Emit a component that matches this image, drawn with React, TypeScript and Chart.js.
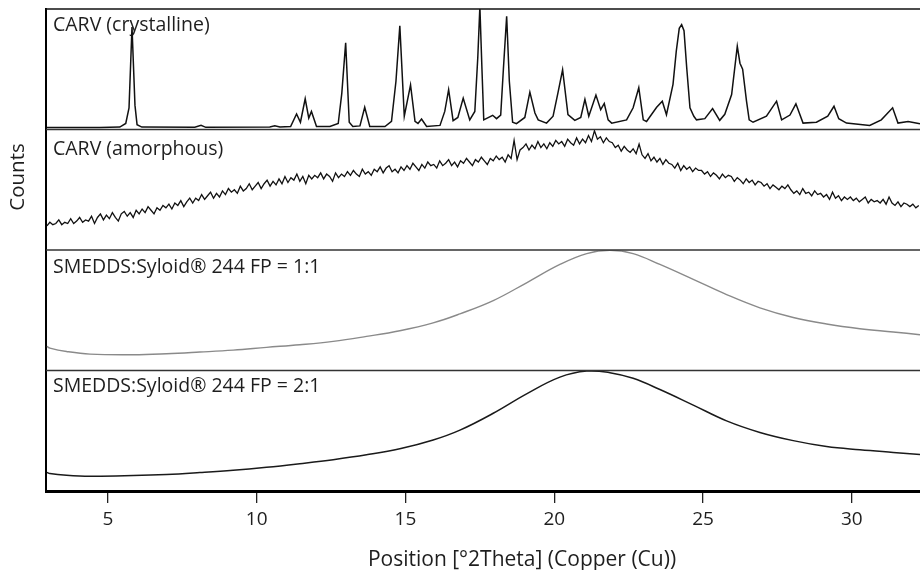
import React, { useEffect, useRef } from 'react';
import { Chart, registerables } from 'chart.js';

Chart.register(...registerables);

// ---------------- data ----------------
const X_MIN = 2.92;
const X_MAX = 32.29;
const X_TICKS = [5, 10, 15, 20, 25, 30];
const X_TITLE = 'Position [°2Theta] (Copper (Cu))';
const Y_TITLE = 'Counts';
const PANEL_LABELS = [
  'CARV (crystalline)',
  'CARV (amorphous)',
  'SMEDDS:Syloid® 244 FP = 1:1',
  'SMEDDS:Syloid® 244 FP = 2:1',
];

const CRYSTALLINE_2THETA = [
  2.95, 4.73, 5.40, 5.60, 5.71, 5.81, 5.91, 5.98, 6.14, 7.92, 8.13, 8.29,
  10.44, 10.61, 10.78, 11.14, 11.34, 11.47, 11.63, 11.75, 11.84, 12.01,
  12.46, 12.74, 12.86, 12.99, 13.11, 13.23, 13.47, 13.63, 13.80,
  14.31, 14.53, 14.68, 14.81, 14.96, 15.17, 15.32, 15.42, 15.54, 15.71,
  16.16, 16.32, 16.45, 16.60, 16.76, 16.94, 17.16, 17.33, 17.43, 17.50, 17.57, 17.63,
  17.93, 18.06, 18.20, 18.29, 18.40, 18.49, 18.60, 18.73,
  19.01, 19.18, 19.35, 19.46, 19.74, 19.96, 20.12, 20.28, 20.46, 20.69,
  20.89, 21.03, 21.16, 21.40, 21.56, 21.68, 21.81, 21.93,
  22.43, 22.65, 22.84, 22.99, 23.10, 23.44, 23.63, 23.77,
  23.99, 24.10, 24.20, 24.28, 24.36, 24.45, 24.56, 24.69, 24.78,
  25.06, 25.32, 25.56, 25.73, 25.96, 26.15, 26.24, 26.33, 26.46, 26.55, 26.68,
  27.13, 27.47, 27.64, 27.92, 28.12, 28.36, 28.81, 29.19, 29.40, 29.56, 29.82,
  30.60, 30.99, 31.37, 31.55, 31.89, 32.29,
];
const CRYSTALLINE_COUNTS = [
  1.7, 1.7, 2, 5, 18, 85, 20, 4, 2, 1.8, 3.5, 1.8,
  2, 3, 2, 2.5, 12.9, 6, 25.5, 9.5, 15, 2.5,
  2.5, 5, 30, 72, 6, 2.5, 3, 18.5, 2.5,
  2.5, 6.7, 40, 86, 11, 37, 6.7, 5, 8.7, 2.5,
  3.4, 15, 33, 7.3, 10, 26, 8, 15, 60, 102, 50, 8,
  11.8, 9, 12, 50, 94, 40, 6, 4.8,
  10, 31, 13.7, 8, 5.3, 11, 30, 49.6, 12.3, 7.6,
  10, 25, 11, 28.6, 16.5, 21.6, 8, 5.3,
  8, 18, 34.7, 8, 6.7, 18.5, 23.5, 12.3,
  37.5, 65, 84, 87, 82, 51.5, 18, 11, 8,
  9, 17.4, 7.6, 12.6, 29, 69, 55, 50, 23.5, 8, 6,
  11, 23.5, 8, 12, 21.3, 5.3, 6, 11, 19.3, 9, 5.3,
  3.4, 8, 18, 5.3, 6.7, 4.8,
];

// amorphous pattern: measured on a regular 2θ grid
const AMORPHOUS_START = 2.95;
const AMORPHOUS_STEP = 0.1;
const AMORPHOUS_COUNTS = [
  20, 23, 21, 22, 25, 21, 23, 22, 26, 22,
  24, 27, 23, 25, 24, 28, 22, 27, 30, 25,
  29, 26, 31, 27, 24, 30, 32, 28, 31, 27,
  33, 30, 34, 31, 36, 33, 30, 35, 33, 37,
  35, 38, 34, 39, 37, 41, 36, 40, 43, 39,
  43, 41, 46, 42, 45, 48, 43, 47, 44, 49,
  46, 51, 48, 50, 47, 53, 49, 51, 55, 50,
  53, 56, 51, 55, 58, 53, 57, 54, 59, 55,
  61, 56, 60, 58, 63, 57, 61, 55, 62, 59,
  62, 60, 64, 59, 63, 61, 57, 64, 60, 63,
  61, 65, 62, 66, 63, 61, 67, 63, 65, 62,
  67, 65, 69, 64, 68, 70, 65, 67, 64, 69,
  66, 70, 67, 72, 69, 66, 71, 68, 73, 70,
  71, 68, 74, 70, 72, 75, 70, 73, 69, 74,
  72, 76, 73, 70, 75, 73, 77, 74, 71, 76,
  74, 78, 75, 77, 73, 79, 76, 91, 75, 83,
  85, 88, 83, 87, 84, 90, 85, 88, 84, 89,
  86, 91, 88, 90, 86, 92, 89, 87, 93, 88,
  92, 89, 95, 90, 99, 92, 94, 89, 93, 90,
  89, 85, 87, 82, 86, 83, 81, 84, 80, 88,
  79, 76, 80, 74, 77, 73, 76, 71, 75, 72,
  71, 68, 72, 66, 70, 67, 69, 65, 68, 66,
  66, 63, 65, 61, 64, 62, 59, 63, 60, 62,
  61, 57, 60, 58, 55, 59, 56, 58, 54, 57,
  56, 53, 55, 51, 54, 52, 50, 53, 51, 54,
  50, 47, 49, 46, 51, 47, 48, 45, 49, 46,
  47, 44, 46, 42, 48, 43, 45, 41, 44, 42,
  44, 41, 43, 40, 42, 44, 39, 42, 40, 41,
  39, 42, 38, 44, 39, 37, 40, 36, 39, 38,
  36, 38, 35, 37,
];

const SMEDDS11_2THETA = [
  2.95, 3.05, 3.61, 4.40, 5.85, 6.97, 8.09, 9.21, 10.33, 11.45, 12.57, 13.69,
  14.81, 15.93, 16.83, 17.95, 19.07, 20.19, 21.09, 21.87, 22.65, 23.55, 24.67,
  25.79, 26.91, 28.03, 29.15, 30.27, 31.39, 32.29,
];
const SMEDDS11_COUNTS = [
  20, 18.6, 15.8, 13.6, 13.1, 13.9, 15.3, 16.9, 19.2, 21.4, 24.2, 28.3,
  33, 39.5, 47, 58, 72.8, 88, 97, 99.7, 97, 88, 75.6,
  63, 52, 44, 38.6, 34.7, 32, 29.7,
];

const SMEDDS21_2THETA = [
  2.95, 3.05, 3.61, 4.40, 5.85, 6.97, 8.09, 9.21, 10.33, 11.45, 12.57, 13.69,
  14.81, 15.93, 16.83, 17.95, 19.07, 20.19, 21.09, 21.87, 22.65, 23.55, 24.67,
  25.79, 26.91, 28.03, 29.15, 30.27, 31.39, 32.29,
];
const SMEDDS21_COUNTS = [
  15.5, 14.5, 13.1, 12.3, 12.8, 13.7, 15.3, 17.2, 19.7, 22.7, 26, 30,
  35, 42.3, 50.5, 64.5, 80.6, 94.5, 99.5, 98.2, 93.5, 84.2, 71.3,
  58.2, 48.6, 41.8, 36.9, 34.2, 32, 30.3,
];

// ---------------- styling ----------------
const FONT = '"Open Sans", sans-serif';
const PANEL_IDS = ['yCryst', 'yAmorph', 'ySm11', 'ySm21'];
const LABEL_BASELINE = [21.5, 25.5, 22.8, 21.5];

function toPoints(xs: number[], ys: number[]) {
  return xs.map((x, i) => ({ x, y: ys[i] }));
}

function panelScale(weight: number) {
  return {
    type: 'linear',
    position: 'left',
    stack: 'panels',
    stackWeight: 1,
    weight,
    min: 0,
    max: 100,
    ticks: { display: false },
    grid: { display: false, drawTicks: false },
    border: { display: true, color: '#000', width: 2 },
    afterFit: (s: any) => {
      s.width = 46;
    },
  };
}

const decorPlugin = {
  id: 'decor',
  beforeDatasetsDraw(chart: any) {
    const { ctx, scales, chartArea } = chart;
    ctx.save();
    ctx.fillStyle = '#1e1e1e';
    ctx.font = `19.5px ${FONT}`;
    ctx.textBaseline = 'alphabetic';
    ctx.textAlign = 'left';
    PANEL_IDS.forEach((id, i) => {
      const s = scales[id];
      ctx.fillText(PANEL_LABELS[i], chartArea.left + 7, s.top + LABEL_BASELINE[i]);
    });
    ctx.restore();
  },
  afterDatasetsDraw(chart: any) {
    const { ctx, scales, chartArea } = chart;
    ctx.save();
    PANEL_IDS.forEach((id, i) => {
      const s = scales[id];
      ctx.strokeStyle = i === 0 ? '#111' : '#333';
      ctx.lineWidth = i === 0 ? 1.6 : 1.3;
      ctx.beginPath();
      ctx.moveTo(chartArea.left, s.top);
      ctx.lineTo(chartArea.right, s.top);
      ctx.stroke();
    });
    // axis titles
    ctx.fillStyle = '#1e1e1e';
    ctx.font = `21px ${FONT}`;
    ctx.textAlign = 'center';
    ctx.textBaseline = 'alphabetic';
    ctx.fillText(X_TITLE, 522, 566);
    ctx.translate(24, 177);
    ctx.rotate(-Math.PI / 2);
    ctx.font = `20.5px ${FONT}`;
    ctx.fillText(Y_TITLE, 0, 0);
    ctx.restore();
  },
};

export default function App() {
  const canvasRef = useRef<HTMLCanvasElement | null>(null);

  useEffect(() => {
    const canvas = canvasRef.current;
    if (!canvas) return;
    const chart = new Chart(canvas, {
      type: 'line',
      data: {
        datasets: [
          {
            data: toPoints(CRYSTALLINE_2THETA, CRYSTALLINE_COUNTS),
            yAxisID: 'yCryst',
            borderColor: '#111',
            borderWidth: 1.5,
            pointRadius: 0,
            tension: 0,
          },
          {
            data: toPoints(
              AMORPHOUS_COUNTS.map((_, i) => +(AMORPHOUS_START + i * AMORPHOUS_STEP).toFixed(2)),
              AMORPHOUS_COUNTS
            ),
            yAxisID: 'yAmorph',
            borderColor: '#111',
            borderWidth: 1.3,
            pointRadius: 0,
            tension: 0,
          },
          {
            data: toPoints(SMEDDS11_2THETA, SMEDDS11_COUNTS),
            yAxisID: 'ySm11',
            borderColor: '#8a8a8a',
            borderWidth: 1.4,
            pointRadius: 0,
            tension: 0.4,
          },
          {
            data: toPoints(SMEDDS21_2THETA, SMEDDS21_COUNTS),
            yAxisID: 'ySm21',
            borderColor: '#1a1a1a',
            borderWidth: 1.5,
            pointRadius: 0,
            tension: 0.4,
          },
        ],
      },
      options: {
        animation: false,
        responsive: true,
        maintainAspectRatio: false,
        layout: { padding: { top: 9, left: 0, right: 0, bottom: 0 } },
        plugins: { legend: { display: false }, tooltip: { enabled: false } },
        scales: {
          x: {
            type: 'linear',
            position: 'bottom',
            min: X_MIN,
            max: X_MAX,
            afterBuildTicks: (s: any) => {
              s.ticks = X_TICKS.map((v) => ({ value: v }));
            },
            afterFit: (s: any) => {
              s.height = 79;
            },
            ticks: {
              font: { family: FONT, size: 19 },
              color: '#1e1e1e',
              padding: 5,
              maxRotation: 0,
              autoSkip: false,
            },
            grid: {
              display: true,
              drawOnChartArea: false,
              drawTicks: true,
              tickLength: 12,
              color: '#222',
              lineWidth: 1.3,
            },
            border: { display: true, color: '#000', width: 3 },
          },
          yCryst: panelScale(4),
          yAmorph: panelScale(3),
          ySm11: panelScale(2),
          ySm21: panelScale(1),
        } as any,
      },
      plugins: [decorPlugin],
    } as any);
    return () => chart.destroy();
  }, []);

  return (
    <div style={{ position: 'absolute', left: 0, top: 0, width: 920, height: 570, background: '#fff' }}>
      <canvas ref={canvasRef} />
    </div>
  );
}
